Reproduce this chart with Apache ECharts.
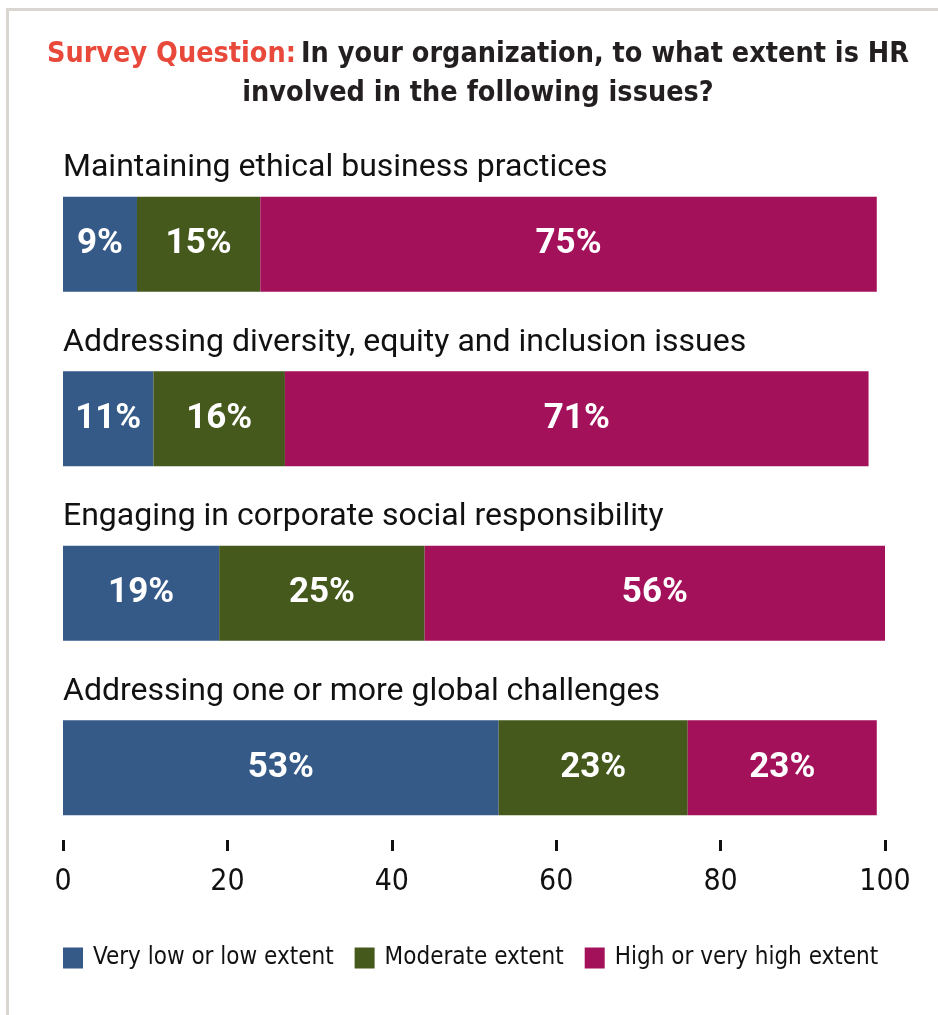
<!DOCTYPE html>
<html>
<head>
<meta charset="utf-8">
<style>
  html, body { margin: 0; padding: 0; background: #ffffff; }
  #chart { width: 938px; height: 1015px; }
</style>
<script src="https://cdn.jsdelivr.net/npm/echarts@6/dist/echarts.min.js"></script>
</head>
<body>
<div id="chart"></div>
<script>
// Survey issues, top to bottom
const categories = [
  'Maintaining ethical business practices',
  'Addressing diversity, equity and inclusion issues',
  'Engaging in corporate social responsibility',
  'Addressing one or more global challenges'
];
const seriesNames = ['Very low or low extent', 'Moderate extent', 'High or very high extent'];
const lowExtent = [9, 11, 19, 53];
const moderateExtent = [15, 16, 25, 23];
const highExtent = [75, 71, 56, 23];
const xTicks = [0, 20, 40, 60, 80, 100];

const colors = ['#355a88', '#44591b', '#a3115a'];
const condensed = "'Liberation Sans Narrow', 'DejaVu Sans Condensed', Roboto, sans-serif";

const chart = echarts.init(document.getElementById('chart'), null, { renderer: 'canvas' });

function barSeries(name, data, color) {
  return {
    name: name,
    type: 'bar',
    stack: 'total',
    data: data,
    barWidth: 95,
    itemStyle: { color: color },
    label: {
      show: true,
      position: 'inside',
      formatter: p => p.value + '%',
      color: '#ffffff',
      fontFamily: 'Roboto',
      fontWeight: 'bold',
      fontSize: 35
    },
    emphasis: { disabled: true }
  };
}

chart.setOption({
  animation: false,
  color: colors,
  title: {
    left: 473,
    textAlign: 'center',
    top: 30,
    text: '{red|Survey Question:} {blk|In your organization, to what extent is HR}\n{blk|involved in the following issues?}',
    textStyle: {
      rich: {
        red: { color: '#e9493b', fontFamily: condensed, fontWeight: 'bold', fontSize: 28.5, lineHeight: 39 },
        blk: { color: '#231f20', fontFamily: condensed, fontWeight: 'bold', fontSize: 28.5, lineHeight: 39 }
      }
    }
  },
  legend: {
    left: 63,
    top: 946,
    width: 870,
    padding: 0,
    itemWidth: 20,
    itemHeight: 21,
    itemGap: 21,
    icon: 'rect',
    selectedMode: false,
    data: seriesNames,
    textStyle: {
      fontFamily: condensed,
      fontSize: 24,
      color: '#111111',
      padding: [0, 0, 0, 5]
    }
  },
  grid: {
    left: 63,
    right: 53,
    top: 157,
    bottom: 160,
    containLabel: false
  },
  xAxis: {
    type: 'value',
    min: 0,
    max: 100,
    interval: 20,
    offset: -15,
    axisLine: { show: false },
    splitLine: { show: false },
    axisTick: { show: true, length: 11, lineStyle: { color: '#111111', width: 3 } },
    axisLabel: {
      margin: 27,
      fontFamily: condensed,
      fontSize: 30,
      color: '#111111',
      formatter: v => xTicks.indexOf(v) >= 0 ? String(v) : ''
    }
  },
  yAxis: {
    type: 'category',
    inverse: true,
    data: categories,
    axisLine: { show: false },
    axisTick: { show: false },
    axisLabel: {
      inside: true,
      margin: 0,
      align: 'left',
      verticalAlign: 'bottom',
      padding: [0, 0, 57, 0],
      lineHeight: 38,
      fontFamily: 'Roboto',
      fontSize: 32,
      color: '#111111'
    }
  },
  graphic: [
    { type: 'rect', shape: { x: 6, y: 8, width: 932, height: 3 }, style: { fill: '#d9d5d1' }, silent: true },
    { type: 'rect', shape: { x: 6, y: 8, width: 3, height: 1007 }, style: { fill: '#d9d5d1' }, silent: true }
  ],
  series: [
    barSeries(seriesNames[0], lowExtent, colors[0]),
    barSeries(seriesNames[1], moderateExtent, colors[1]),
    barSeries(seriesNames[2], highExtent, colors[2])
  ]
});
</script>
</body>
</html>
